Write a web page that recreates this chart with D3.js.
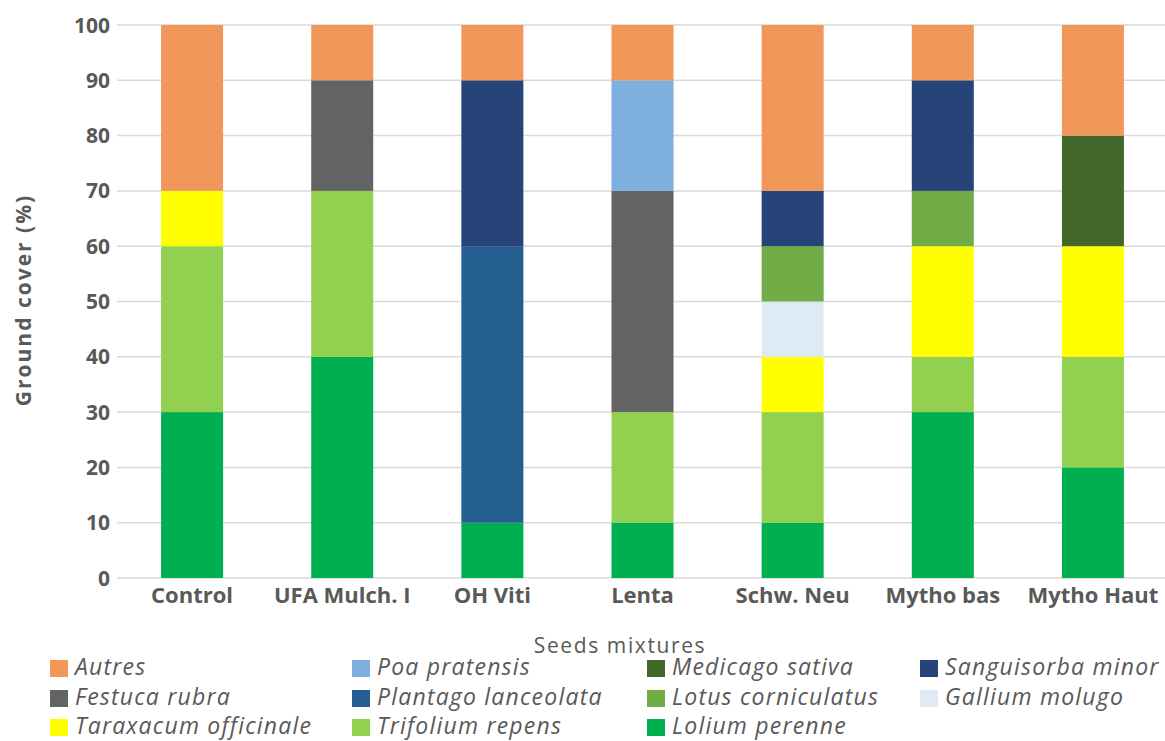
<!DOCTYPE html>
<html><head><meta charset="utf-8">
<script src="https://cdn.jsdelivr.net/npm/d3@7"></script>
<style>body{margin:0;background:#fff}svg{display:block}</style>
</head><body>
<svg id="c" width="1165" height="741"></svg>
<script>
const categories = ["Control","UFA Mulch. I","OH Viti","Lenta","Schw. Neu","Mytho bas","Mytho Haut"];
// stack order bottom -> top
const species = ["Lolium perenne","Trifolium repens","Taraxacum officinale","Gallium molugo","Lotus corniculatus","Medicago sativa","Plantago lanceolata","Sanguisorba minor","Festuca rubra","Poa pratensis","Autres"];
const lolium     = [30,40,10,10,10,30,20];
const trifolium  = [30,30, 0,20,20,10,20];
const taraxacum  = [10, 0, 0, 0,10,20,20];
const gallium    = [ 0, 0, 0, 0,10, 0, 0];
const lotus      = [ 0, 0, 0, 0,10,10, 0];
const medicago   = [ 0, 0, 0, 0, 0, 0,20];
const plantago   = [ 0, 0,50, 0, 0, 0, 0];
const sanguisorba= [ 0, 0,30, 0,10,20, 0];
const festuca    = [ 0,20, 0,40, 0, 0, 0];
const poa        = [ 0, 0, 0,20, 0, 0, 0];
const autres     = [30,10,10,10,30,10,20];
const seriesValues = [lolium,trifolium,taraxacum,gallium,lotus,medicago,plantago,sanguisorba,festuca,poa,autres];
const yTicks = [0,10,20,30,40,50,60,70,80,90,100];
const legendOrder = ["Autres","Poa pratensis","Medicago sativa","Sanguisorba minor","Festuca rubra","Plantago lanceolata","Lotus corniculatus","Gallium molugo","Taraxacum officinale","Trifolium repens","Lolium perenne"];
const colors = {
  "Autres":"#F1975A","Poa pratensis":"#7EAFDE","Medicago sativa":"#43682B","Sanguisorba minor":"#264478",
  "Festuca rubra":"#636363","Plantago lanceolata":"#255E91","Lotus corniculatus":"#70AD47","Gallium molugo":"#DEEBF7",
  "Taraxacum officinale":"#FFFF00","Trifolium repens":"#92D050","Lolium perenne":"#00B050"
};

const rows = categories.map((c,i)=>{const o={cat:c}; species.forEach((s,j)=>o[s]=seriesValues[j][i]); return o;});
const stack = d3.stack().keys(species)(rows);

const svg = d3.select("#c");
const x = d3.scaleBand().domain(categories).range([117,1168]).paddingInner(0.587).paddingOuter(0.2935);
const y = d3.scaleLinear().domain([0,100]).range([578,25]);
const txt = "#595959";
const font = "'Open Sans', sans-serif";

// gridlines
svg.append("g").selectAll("line").data(yTicks).join("line")
  .attr("x1",117).attr("x2",1165).attr("y1",d=>y(d)).attr("y2",d=>y(d))
  .attr("stroke","#d9d9d9").attr("stroke-width",1.5);

// y tick labels
svg.append("g").selectAll("text").data(yTicks).join("text")
  .attr("x",110).attr("y",d=>y(d)).attr("dy","0.36em").attr("text-anchor","end")
  .attr("font-family",font).attr("font-weight","bold").attr("font-size",21)
  .attr("fill",txt).text(d=>d);

// bars
svg.append("g").selectAll("g").data(stack).join("g").attr("fill",d=>colors[d.key])
  .selectAll("rect").data(d=>d).join("rect")
  .attr("x",d=>x(d.data.cat)).attr("width",x.bandwidth())
  .attr("y",d=>y(d[1])).attr("height",d=>y(d[0])-y(d[1]));

// x labels
svg.append("g").selectAll("text").data(categories).join("text")
  .attr("x",d=>x(d)+x.bandwidth()/2).attr("y",603).attr("text-anchor","middle")
  .attr("font-family",font).attr("font-weight","bold").attr("font-size",22)
  .attr("fill",txt).text(d=>d);

// axis titles
svg.append("text").attr("transform","translate(31,300) rotate(-90)").attr("text-anchor","middle")
  .attr("font-family",font).attr("font-weight","bold").attr("font-size",21).attr("letter-spacing",2)
  .attr("fill",txt).text("Ground cover (%)");
svg.append("text").attr("x",620).attr("y",653).attr("text-anchor","middle")
  .attr("font-family",font).attr("font-size",21).attr("letter-spacing",1.6)
  .attr("fill",txt).text("Seeds mixtures");

// legend
const colX = [50,352,647,920];
const rowY = [675,705,734];
const lg = svg.append("g").selectAll("g").data(legendOrder).join("g")
  .attr("transform",(d,i)=>`translate(${colX[i%4]},${rowY[Math.floor(i/4)]})`);
lg.append("rect").attr("x",0).attr("y",-15).attr("width",18).attr("height",17).attr("fill",d=>colors[d]);
lg.append("text").attr("x",25).attr("y",0)
  .attr("font-family",font).attr("font-style","italic").attr("font-size",23).attr("letter-spacing",1.2)
  .attr("fill",txt).text(d=>d);
</script>
</body></html>
